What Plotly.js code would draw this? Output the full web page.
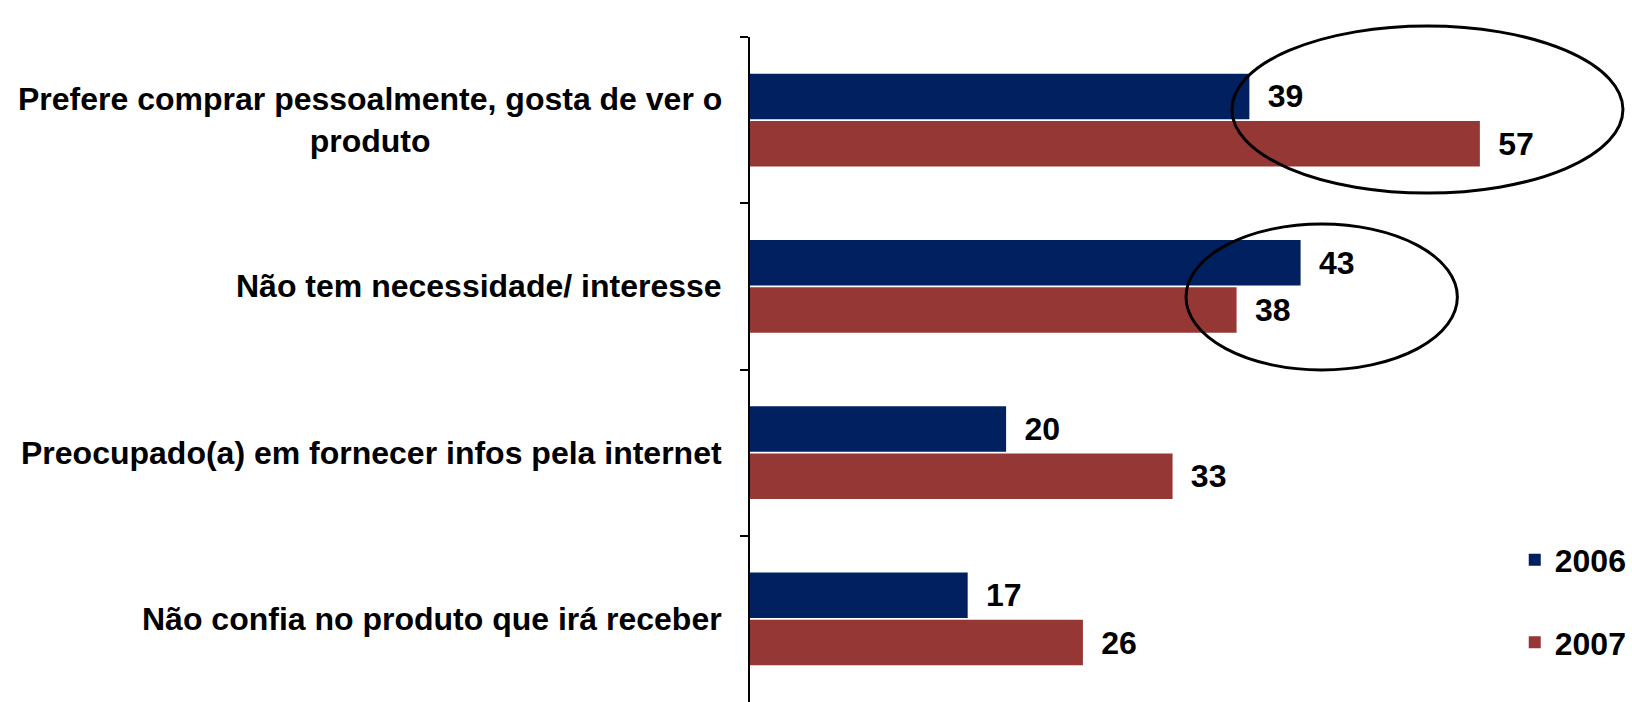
<!DOCTYPE html>
<html>
<head>
<meta charset="utf-8">
<script src="https://cdn.plot.ly/plotly-3.0.1.min.js"></script>
<style>html,body{margin:0;padding:0;background:#fff;}</style>
</head>
<body>
<div id="chart" style="width:1632px;height:702px;"></div>
<script>
const categories = [
  "Prefere comprar pessoalmente, gosta de ver o<br>produto",
  "Não tem necessidade/ interesse",
  "Preocupado(a) em fornecer infos pela internet",
  "Não confia no produto que irá receber"
];
const seriesNames = ["2006", "2007"];
const values2006 = [39, 43, 20, 17];
const values2007 = [57, 38, 33, 26];
const colors = ["#00205F", "#953735"];

const FONT = "Arial, 'Liberation Sans', sans-serif";

function barTrace(name, vals, color) {
  return {
    type: "bar",
    orientation: "h",
    name: name,
    legendgroup: name,
    y: categories,
    x: vals,
    marker: {color: color, line: {color: color, width: 0}},
    text: vals.map(String),
    texttemplate: "\u00a0\u2009%{text}",
    textposition: "outside",
    cliponaxis: false,
    textfont: {family: FONT, size: 32, color: "#000", weight: 700},
    hoverinfo: "x+name"
  };
}

const data = [
  barTrace(seriesNames[0], values2006, colors[0]),
  barTrace(seriesNames[1], values2007, colors[1])
];

const annotations = categories.map(c => ({
  xref: "paper", yref: "y", x: 0, y: c,
  xanchor: "right", yanchor: "middle", xshift: -26,
  text: c, align: "center", showarrow: false,
  font: {family: FONT, size: 32, color: "#000", weight: 700}
}));

const layout = {
  width: 1632, height: 702,
  margin: {l: 750, r: 8, t: 37, b: 0, pad: 0},
  paper_bgcolor: "#fff", plot_bgcolor: "#fff",
  barmode: "group", bargap: 0.43, bargroupgap: 0.04,
  xaxis: {range: [0, 68.1], visible: false, fixedrange: true},
  yaxis: {
    type: "category", autorange: "reversed",
    showline: true, linecolor: "#000", linewidth: 2,
    ticks: "outside", tickson: "boundaries", ticklen: 8, tickwidth: 2, tickcolor: "#000",
    showticklabels: false, showgrid: false, zeroline: false, fixedrange: true
  },
  showlegend: true,
  legend: {
    x: 0.877, xanchor: "left", y: 0.255, yanchor: "top",
    traceorder: "grouped", tracegroupgap: 38,
    font: {family: FONT, size: 32, color: "#000", weight: 700},
    bgcolor: "rgba(0,0,0,0)"
  },
  annotations: annotations,
  shapes: [
    {type: "circle", xref: "paper", yref: "paper", x0: 0.5526, x1: 1.0011, y0: 0.7654, y1: 1.0165,
     line: {color: "#000", width: 3}, fillcolor: "rgba(0,0,0,0)"},
    {type: "circle", xref: "paper", yref: "paper", x0: 0.5, x1: 0.8112, y0: 0.4992, y1: 0.7188,
     line: {color: "#000", width: 3}, fillcolor: "rgba(0,0,0,0)"}
  ]
};

Plotly.newPlot("chart", data, layout, {displayModeBar: false, staticPlot: true});
</script>
</body>
</html>
